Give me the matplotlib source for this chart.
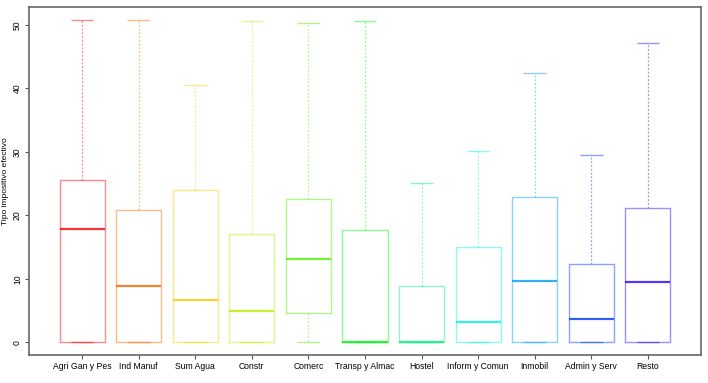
import colorsys
import matplotlib
matplotlib.use("Agg")
import matplotlib.pyplot as plt

plt.rcParams["font.family"] = ["Liberation Sans", "DejaVu Sans"]

sectores = ["Agri Gan y Pes", "Ind Manuf", "Sum Agua", "Constr", "Comerc",
            "Transp y Almac", "Hostel", "Inform y Comun", "Inmobil",
            "Admin y Serv", "Resto"]
whislo = [0, 0, 0, 0, 0, 0, 0, 0, 0, 0, 0]
q1 = [0, 0, 0, 0, 4.6, 0, 0, 0, 0, 0, 0]
med = [17.8, 8.8, 6.6, 4.85, 13.1, 0.05, 0.05, 3.1, 9.7, 3.6, 9.5]
q3 = [25.5, 20.9, 24.0, 17.0, 22.5, 17.7, 8.9, 15.0, 22.9, 12.3, 21.2]
whishi = [50.8, 50.8, 40.5, 50.7, 50.3, 50.6, 25.1, 30.1, 42.4, 29.5, 47.1]

# rainbow palette, red -> blue violet
n = len(sectores)
cols = [colorsys.hsv_to_rgb(0.7 * i / (n - 1), 1, 0.95) for i in range(n)]

fig = plt.figure(figsize=(7.08, 3.83), dpi=100)
ax = fig.add_axes([29/708, 1 - 355/383, 672/708, 348/383])

for i in range(n):
    st = dict(med=med[i], q1=q1[i], q3=q3[i], whislo=whislo[i],
              whishi=whishi[i], fliers=[])
    c = cols[i]
    ax.bxp([st], positions=[i + 1], widths=0.8, showfliers=False,
           boxprops=dict(color=c, alpha=0.45, lw=1),
           whiskerprops=dict(color=c, alpha=0.45, lw=0.9, linestyle=(0, (1.5, 1.5))),
           capprops=dict(color=c, alpha=0.45, lw=1, solid_capstyle="butt"),
           medianprops=dict(color=c, alpha=0.8, lw=1.6, solid_capstyle="butt"),
           capwidths=0.4)

ax.set_xlim(0.06, 11.94)
ax.set_ylim(-2.03, 52.83)
ax.set_xticks(range(1, n + 1))
ax.set_xticklabels(sectores, fontsize=6.2)
ax.set_yticks([0, 10, 20, 30, 40, 50])
ax.set_yticklabels(["0", "10", "20", "30", "40", "50"], fontsize=6.2,
                   rotation=90, va="center")
ax.tick_params(direction="out", length=3, width=0.8, color="#555555", pad=2)
fig.text(6/708, 1 - 181/383, "Tipo impositivo efectivo", fontsize=6,
         rotation=90, ha="center", va="center")
for s in ax.spines.values():
    s.set_color("#666666")
    s.set_linewidth(1.2)

fig.savefig("out.png", dpi=100)
